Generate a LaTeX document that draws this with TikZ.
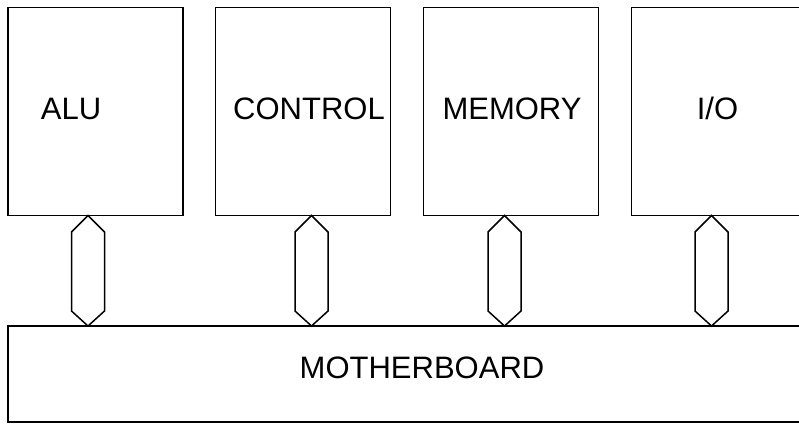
\documentclass[tikz,border=0pt]{standalone}
\usepackage{fontspec}
\setmainfont{Liberation Sans}
\usetikzlibrary{calc}
\tikzset{
  unit/.style={draw=black, line width=1.5pt, minimum width=175pt, minimum height=208pt, inner sep=0pt, outer sep=0pt},
  board/.style={draw=black, line width=1.5pt, minimum width=802pt, minimum height=96pt, inner sep=0pt, outer sep=0pt},
  caption/.style={font=\fontsize{31}{36}\selectfont, anchor=base, inner sep=0pt},
  bus/.style={draw=black, line width=1.5pt, line join=miter, fill=white}
}
% draws a bus link between the bottom of #2 and the top of #3 at x = #1
\newcommand{\buslink}[3]{%
  \path (#2.south -| #1,0) coordinate (bt-#2) (#3.north -| #1,0) coordinate (bb-#2);
  \draw[bus] (bt-#2) -- ($(bt-#2)+(16.5,16.5)$) -- ($(bb-#2)+(16.5,-15)$) -- (bb-#2)
    -- ($(bb-#2)+(-16.5,-15)$) -- ($(bt-#2)+(-16.5,16.5)$) -- cycle;
}
\begin{document}
\begin{tikzpicture}[x=1pt, y=-1pt]
  \useasboundingbox (0,0) rectangle (799,423);
  \clip (0,0) rectangle (799,423);
  % processor units
  \node[unit] (alu) at (95.5,111.5) {};
  \node[unit] (ctl) at (303,111.5) {};
  \node[unit] (mem) at (511,111.5) {};
  \node[unit] (io)  at (719,111.5) {};
  % motherboard
  \node[board] (mb) at (409,374) {};
  % labels
  \node[caption] (t-alu) at (71,119.3) {ALU};
  \node[caption] (t-ctl) at (309,119.3) {CONTROL};
  \node[caption] (t-mem) at (512,119.3) {MEMORY};
  \node[caption] (t-io)  at (717.5,119.3) {I/O};
  \node[caption] (t-mb)  at (422,378) {MOTHERBOARD};
  % bus links
  \buslink{88}{alu}{mb}
  \buslink{311.5}{ctl}{mb}
  \buslink{504.5}{mem}{mb}
  \buslink{711.5}{io}{mb}
\end{tikzpicture}
\end{document}
